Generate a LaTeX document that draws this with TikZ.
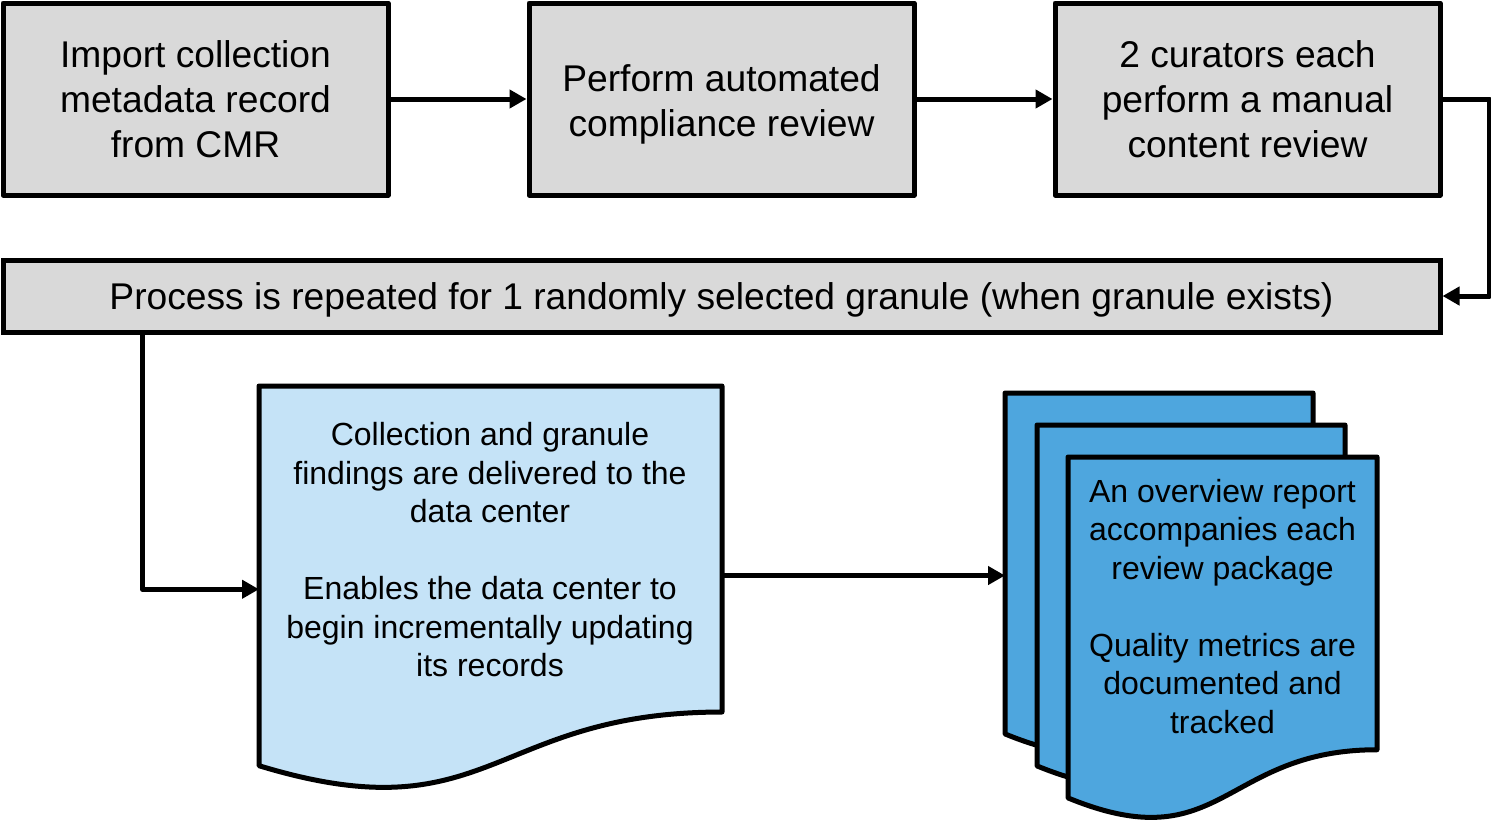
\documentclass[tikz,border=0pt]{standalone}
\usepackage{fontspec}
\setmainfont{Liberation Sans}
\usetikzlibrary{arrows.meta}
\definecolor{boxgray}{HTML}{D9D9D9}
\definecolor{lightblue}{HTML}{C5E3F7}
\definecolor{midblue}{HTML}{4EA6DE}
\newcommand\docpage[5]{%
  \draw[docline,fill=#5] (#1,#2) -- ({#1+#3},#2) -- ({#1+#3},{#2+0.802*#4})
    .. controls ({#1+0.5*#3},{#2+0.802*#4}) and ({#1+0.5*#3},{#2+1.1075*#4}) ..
    (#1,{#2+0.934*#4}) -- cycle;}
\begin{document}
\begin{tikzpicture}[x=0.5pt,y=-0.5pt,
  docline/.style={draw=black,line width=2.5pt,line join=round},
  boxfont/.style={font=\fontsize{18.6}{22.5}\selectfont},
  procbox/.style={draw=black,fill=boxgray,line width=2.5pt,line join=round,
    minimum width=192.5pt,minimum height=96pt,inner sep=0pt,align=center,boxfont},
  widebox/.style={draw=black,fill=boxgray,line width=2.5pt,
    minimum width=718.5pt,minimum height=36pt,inner sep=0pt},
  doctext/.style={align=center,inner sep=0pt,font=\fontsize{16}{19.25}\selectfont},
  anchorbox/.style={inner sep=0pt,outer sep=0pt},
  conn/.style={line width=2.5pt,line join=round,-{Triangle[length=8.5pt,width=9pt]}}]
\useasboundingbox (0,0) rectangle (1491,821);

% top row
\node[procbox] (imp) at (195.5,99) {Import collection\\metadata record\\from CMR};
\node[procbox,label={[align=center,inner sep=0pt,boxfont,yshift=-2.5pt]center:Perform automated\\compliance review}] (auto) at (721.5,99) {};
\node[procbox] (man) at (1247.5,99) {2 curators each\\perform a manual\\content review};

% repeat bar
\node[widebox,label={[inner sep=0pt,boxfont,yshift=-2pt]center:Process is repeated for 1 randomly selected granule (when granule exists)}] (rep) at (721.5,296) {};

% findings document
\docpage{259}{386}{463}{406.5}{lightblue}
\node[anchorbox,minimum width=231.5pt,minimum height=203.25pt] (doc1) at (490.5,589.25) {};
\node[doctext] (doc1text) at (490,550) {Collection and granule\\findings are delivered to the\\data center\\[19.25pt]Enables the data center to\\begin incrementally updating\\its records};

% multi-document
\docpage{1005}{393}{308}{365}{midblue}
\docpage{1037}{425}{308}{365}{midblue}
\docpage{1068}{457}{309}{365}{midblue}
\node[anchorbox,minimum width=154pt,minimum height=182.5pt] (pages) at (1159,575.5) {};
\node[doctext] (pagestext) at (1222.5,606.5) {An overview report\\accompanies each\\review package\\[19.25pt]Quality metrics are\\documented and\\tracked};

% connectors
\draw[conn] (imp) -- (auto);
\draw[conn] (auto) -- (man);
\draw[conn] (man.east) -- ++(47,0) |- (rep.east);
\draw[conn] ([xshift=71pt]rep.south west) |- (doc1.west);
\draw[conn] (pages.west -| doc1.east) -- (pages.west);
\end{tikzpicture}
\end{document}
